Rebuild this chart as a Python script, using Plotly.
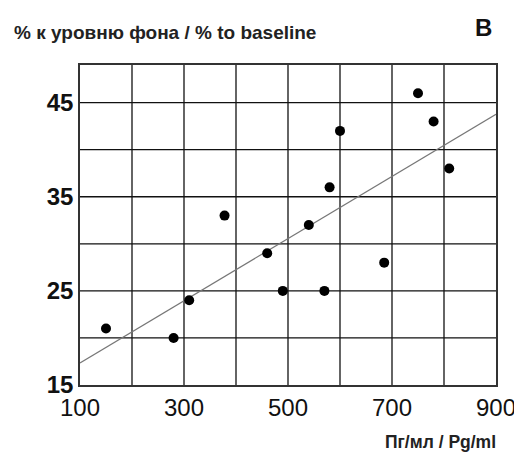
import plotly.graph_objects as go

# Data
conc_pg_ml = [150, 280, 310, 378, 460, 490, 540, 570, 580, 600, 685, 750, 780, 810]
pct_baseline = [21, 20, 24, 33, 29, 25, 32, 25, 36, 42, 28, 46, 43, 38]

fit_x = [100, 900]
fit_y = [17.35, 43.76]

x_ticks = [100, 300, 500, 700, 900]
y_ticks = [15, 25, 35, 45]
x_grid = [200, 300, 400, 500, 600, 700, 800]
y_grid = [20, 25, 30, 35, 40, 45]

FONT = "Liberation Sans, Arial, sans-serif"

fig = go.Figure()
fig.add_trace(go.Scatter(
    x=fit_x, y=fit_y, mode="lines",
    line=dict(color="#777777", width=1.2),
    hoverinfo="skip", showlegend=False,
))
fig.add_trace(go.Scatter(
    x=conc_pg_ml, y=pct_baseline, mode="markers",
    marker=dict(color="black", size=10),
    showlegend=False,
))

# page body has an 8px margin, so the figure is 8px smaller than the window
fig.update_layout(
    width=514, height=444,
    margin=dict(l=72, r=26, t=57, b=67),
    paper_bgcolor="white", plot_bgcolor="white",
    font=dict(family=FONT, color="black"),
    xaxis=dict(
        range=[100, 900], tickvals=x_ticks, ticktext=[str(v) for v in x_ticks],
        showgrid=False, automargin=False,
        showline=True, linecolor="#333333", linewidth=1.5, mirror=True,
        ticks="", zeroline=False,
        tickfont=dict(size=24, family=FONT, color="#111111"),
        fixedrange=True,
    ),
    yaxis=dict(
        range=[15, 49], tickvals=y_ticks, ticktext=[str(v) for v in y_ticks],
        showgrid=False, automargin=False,
        showline=True, linecolor="#333333", linewidth=1.5, mirror=True,
        ticks="", zeroline=False,
        tickfont=dict(size=24, family=FONT, color="#111111", weight=600),
        fixedrange=True,
    ),
)

for gy in y_grid:
    fig.add_shape(type="line", xref="paper", yref="y", x0=0, x1=1, y0=gy, y1=gy,
                  line=dict(color="#111111", width=1.3), layer="below")
for gx in x_grid:
    fig.add_shape(type="line", xref="x", yref="paper", x0=gx, x1=gx, y0=0, y1=1,
                  line=dict(color="#111111", width=1.3), layer="below")

fig.add_annotation(text="% к уровню фона / % to baseline", xref="paper", yref="paper",
                   x=-68/416, y=1 + 32/320, xanchor="left", yanchor="middle",
                   showarrow=False, font=dict(size=19, family=FONT, color="#222222", weight="bold"))
fig.add_annotation(text="B", xref="paper", yref="paper",
                   x=1 - 13/416, y=1 + 38/320, xanchor="center", yanchor="middle",
                   showarrow=False, font=dict(size=24, family=FONT, color="#111111", weight="bold"))
fig.add_annotation(text="Пг/мл / Pg/ml", xref="paper", yref="paper",
                   x=1 + 2/416, y=-57/320, xanchor="right", yanchor="middle",
                   showarrow=False, font=dict(size=17.5, family=FONT, color="#222222", weight="bold"))

fig.write_html("out.html")
